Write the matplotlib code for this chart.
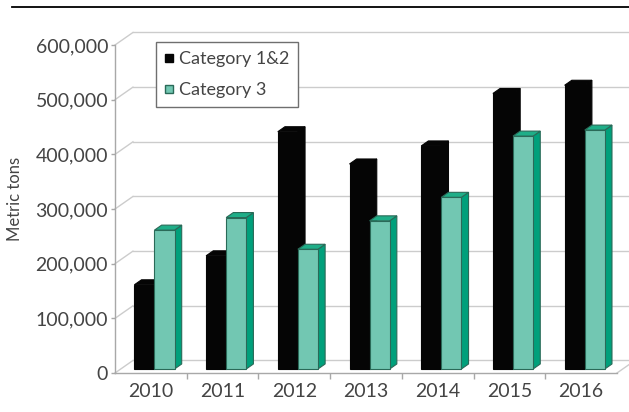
import matplotlib
matplotlib.use('Agg')
import matplotlib.pyplot as plt
from matplotlib.patches import Polygon
from matplotlib.lines import Line2D

# dados
anos = ['2010', '2011', '2012', '2013', '2014', '2015', '2016']
categoria12 = [154000, 207000, 434000, 375000, 408000, 504000, 519000]
categoria3 = [254000, 277000, 219000, 271000, 314000, 426000, 437000]
nomesSeries = ['Category 1&2', 'Category 3']
yTicks = [0, 100000, 200000, 300000, 400000, 500000, 600000]
yTickLabels = ['0', '100,000', '200,000', '300,000', '400,000', '500,000', '600,000']

plt.rcParams['font.family'] = ['Lato', 'DejaVu Sans']

# profundidade da parede do fundo (em unidades de categoria / valor)
paredeDx = 0.25
paredeDy = 22900
larguraBarra = 0.28
deslocGrupo = -0.03
barZ0 = 0.32
barZ1 = 0.72

corGrade = '#cccccc'
corTexto = '#444444'


def desenhaBarra(ax, x0, x1, valor, frente, topo, lado, borda):
    ox0, oy0 = barZ0 * paredeDx, barZ0 * paredeDy
    ox1, oy1 = barZ1 * paredeDx, barZ1 * paredeDy
    faceFrente = [(x0 + ox0, oy0), (x1 + ox0, oy0), (x1 + ox0, valor + oy0), (x0 + ox0, valor + oy0)]
    faceTopo = [(x0 + ox0, valor + oy0), (x1 + ox0, valor + oy0), (x1 + ox1, valor + oy1), (x0 + ox1, valor + oy1)]
    faceLado = [(x1 + ox0, oy0), (x1 + ox1, oy1), (x1 + ox1, valor + oy1), (x1 + ox0, valor + oy0)]
    for pts, cor in [(faceLado, lado), (faceTopo, topo), (faceFrente, frente)]:
        ax.add_patch(Polygon(pts, closed=True, facecolor=cor, edgecolor=borda,
                             linewidth=0.8, joinstyle='miter', zorder=3, clip_on=False))


fig = plt.figure(figsize=(6.29, 4.12), dpi=100)
ax = fig.add_axes([115 / 629, 39 / 412, 502 / 629, 328 / 412])
ax.set_xlim(-0.5, 6.5)
ax.set_ylim(0, 600000)

# parede do fundo: linhas de grade e diagonais
n = len(anos)
for v in yTicks:
    ax.plot([-0.5 + paredeDx, n - 0.5 + paredeDx], [v + paredeDy, v + paredeDy],
            color=corGrade, linewidth=1.0, zorder=1, clip_on=False)
    ax.plot([-0.5, -0.5 + paredeDx], [v, v + paredeDy],
            color=corGrade, linewidth=1.0, zorder=1, clip_on=False)
ax.plot([n - 0.5, n - 0.5 + paredeDx], [0, paredeDy], color=corGrade, linewidth=1.0, zorder=1, clip_on=False)

# barras
for i in range(n):
    centro = i + deslocGrupo
    desenhaBarra(ax, centro - larguraBarra, centro, categoria12[i],
                 '#050505', '#050505', '#050505', '#050505')
    desenhaBarra(ax, centro, centro + larguraBarra, categoria3[i],
                 '#72c7b2', '#1fae88', '#00a07b', '#2a6a58')

# eixos
for lado in ['top', 'right']:
    ax.spines[lado].set_visible(False)
for lado in ['left', 'bottom']:
    ax.spines[lado].set_color('#a8a8a8')
    ax.spines[lado].set_linewidth(1.0)
ax.set_facecolor('none')

ax.set_yticks(yTicks)
ax.set_yticklabels(yTickLabels)
ax.tick_params(axis='y', length=3, width=1, color='#a8a8a8', labelsize=14, labelcolor=corTexto, pad=2)

ax.set_xticks(range(n))
ax.set_xticklabels(anos)
ax.set_xticks([i + 0.5 for i in range(n - 1)], minor=True)
ax.tick_params(axis='x', which='major', length=0, labelsize=14, labelcolor=corTexto, pad=7)
ax.tick_params(axis='x', which='minor', length=4, width=1, color='#a8a8a8')

fig.text(15 / 629, 1 - 199 / 412, 'Metric tons', rotation=90, ha='center', va='center',
         fontsize=12, color=corTexto)

# linha preta do topo
fig.add_artist(Line2D([12 / 629, 1], [1 - 7 / 412, 1 - 7 / 412], color='black', linewidth=1.3))

# legenda
handles = [
    Line2D([], [], marker='s', linestyle='none', markersize=5.5, color='#050505'),
    Line2D([], [], marker='s', linestyle='none', markersize=5.5, markerfacecolor='#72c7b2',
           markeredgecolor='#2a6a58'),
]
leg = ax.legend(handles, nomesSeries, loc='upper left', bbox_to_anchor=(156 / 629, 1 - 42 / 412),
                bbox_transform=fig.transFigure, fancybox=False, fontsize=13,
                handlelength=0.4, handletextpad=0.35, labelspacing=0.85, borderpad=0.5,
                borderaxespad=0, framealpha=1, labelcolor=corTexto)
leg.get_frame().set_edgecolor('#6f6f6f')
leg.get_frame().set_linewidth(1.0)
leg.set_zorder(5)

plt.savefig('out.png', dpi=100)
plt.close()
